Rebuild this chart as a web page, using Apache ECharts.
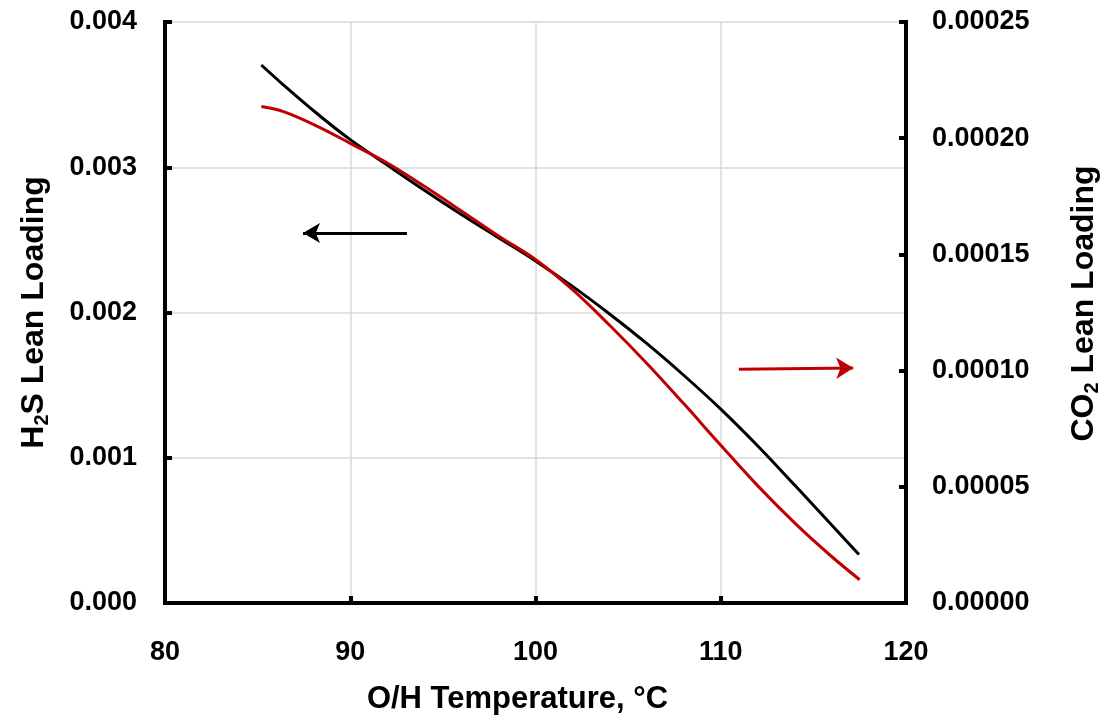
<!DOCTYPE html>
<html>
<head>
<meta charset="utf-8">
<script src="https://cdn.jsdelivr.net/npm/echarts@6/dist/echarts.min.js"></script>
<style>
  html, body { margin: 0; padding: 0; background: #fff; }
  #chart { width: 1111px; height: 721px; }
</style>
</head>
<body>
<div id="chart"></div>
<script>
// H2S lean loading (left axis), black curve
var tempH2S = [85.2, 86.4, 88.2, 90, 92, 94, 96, 98, 100, 102, 104, 106, 108, 110, 112, 114, 116, 117.46];
var h2s = [0.003704, 0.003566, 0.003370, 0.003190, 0.003015, 0.002842, 0.002675, 0.002515, 0.002355, 0.002180, 0.001990, 0.001787, 0.001568, 0.001335, 0.001081, 0.000810, 0.000535, 0.000334];

// CO2 lean loading (right axis), red curve
var tempCO2 = [85.2, 86.4, 88.2, 90, 92, 94, 96, 98, 100, 102, 104, 106, 108, 110, 112, 114, 116, 117.5];
var co2 = [0.0002136, 0.0002114, 0.0002052, 0.0001978, 0.0001893, 0.0001793, 0.0001687, 0.0001579, 0.0001478, 0.0001348, 0.0001195, 0.0001032, 0.0000858, 0.0000679, 0.0000504, 0.0000344, 0.0000199, 0.0000100];

var xTicks = ['80', '90', '100', '110', '120'];
var leftTicks = ['0.000', '0.001', '0.002', '0.003', '0.004'];
var rightTicks = ['0.00000', '0.00005', '0.00010', '0.00015', '0.00020', '0.00025'];

// arrow annotations [x, y] in data units (tail, tip)
var arrowH2S = [[93.06, 0.002547], [87.45, 0.002547]];
var arrowCO2 = [[110.98, 0.0001006], [117.15, 0.0001011]];

function pairs(xs, ys) {
  return xs.map(function (x, i) { return [x, ys[i]]; });
}

var fontFam = '"Liberation Sans", Arial, sans-serif';
var tickFont = { color: '#000', fontSize: 27, fontWeight: 'bold', fontFamily: fontFam };
var nameRich = {
  b: { fontSize: 32, fontWeight: 'bold', fontFamily: fontFam, color: '#000', lineHeight: 36 },
  s: { fontSize: 20, fontWeight: 'bold', fontFamily: fontFam, color: '#000', verticalAlign: 'bottom', lineHeight: 20 }
};
var gridLine = { show: true, lineStyle: { color: '#d9d9d9', width: 1.5 } };
var axLine = { show: true, onZero: false, lineStyle: { color: '#000', width: 4, cap: 'square' } };
var axTick = { show: true, inside: true, length: 7, lineStyle: { color: '#000', width: 4 } };

var chart = echarts.init(document.getElementById('chart'));
var option = {
  animation: false,
  backgroundColor: '#fff',
  grid: { left: 165, right: 205, top: 22, bottom: 118 },
  xAxis: {
    type: 'value', min: 80, max: 120, interval: 10,
    name: 'O/H Temperature, °C', nameLocation: 'middle', nameGap: 81,
    nameTextStyle: { fontSize: 31, fontWeight: 'bold', fontFamily: fontFam, color: '#000', padding: [0, 36, 0, 0] },
    axisLine: axLine, axisTick: axTick, splitLine: gridLine,
    axisLabel: Object.assign({ margin: 36, formatter: function (v, i) { return xTicks[i]; } }, tickFont)
  },
  yAxis: [{
    type: 'value', min: 0, max: 0.004, interval: 0.001, position: 'left',
    name: '{b|H}{s|2}{b|S Lean Loading}', nameLocation: 'middle', nameGap: 113, nameRotate: 90,
    nameTextStyle: { rich: nameRich },
    axisLine: axLine, axisTick: axTick, splitLine: gridLine,
    axisLabel: Object.assign({ margin: 28, formatter: function (v, i) { return leftTicks[i]; } }, tickFont)
  }, {
    type: 'value', min: 0, max: 0.00025, interval: 0.00005, position: 'right',
    name: '{b|CO}{s|2}{b| Lean Loading}', nameLocation: 'middle', nameGap: 160, nameRotate: 90,
    nameTextStyle: { rich: nameRich, padding: [0, 0, 0, 18] },
    axisLine: axLine, axisTick: axTick, splitLine: { show: false },
    axisLabel: Object.assign({ margin: 26, formatter: function (v, i) { return rightTicks[i]; } }, tickFont)
  }],
  series: [{
    name: 'H2S', type: 'line', yAxisIndex: 0, smooth: 0.35, symbol: 'none',
    data: pairs(tempH2S, h2s),
    lineStyle: { color: '#000', width: 3 },
    z: 3,
    markLine: {
      silent: true, symbol: ['none', 'arrow'], symbolSize: [15, 17],
      label: { show: false },
      lineStyle: { color: '#000', width: 3, type: 'solid' },
      data: [[{ coord: arrowH2S[0] }, { coord: arrowH2S[1] }]]
    }
  }, {
    name: 'CO2', type: 'line', yAxisIndex: 1, smooth: 0.35, symbol: 'none',
    data: pairs(tempCO2, co2),
    lineStyle: { color: '#c00000', width: 3 },
    z: 4,
    markLine: {
      silent: true, symbol: ['none', 'arrow'], symbolSize: [16, 17],
      label: { show: false },
      lineStyle: { color: '#c00000', width: 3, type: 'solid' },
      data: [[{ coord: arrowCO2[0] }, { coord: arrowCO2[1] }]]
    }
  }]
};
chart.setOption(option);
</script>
</body>
</html>
